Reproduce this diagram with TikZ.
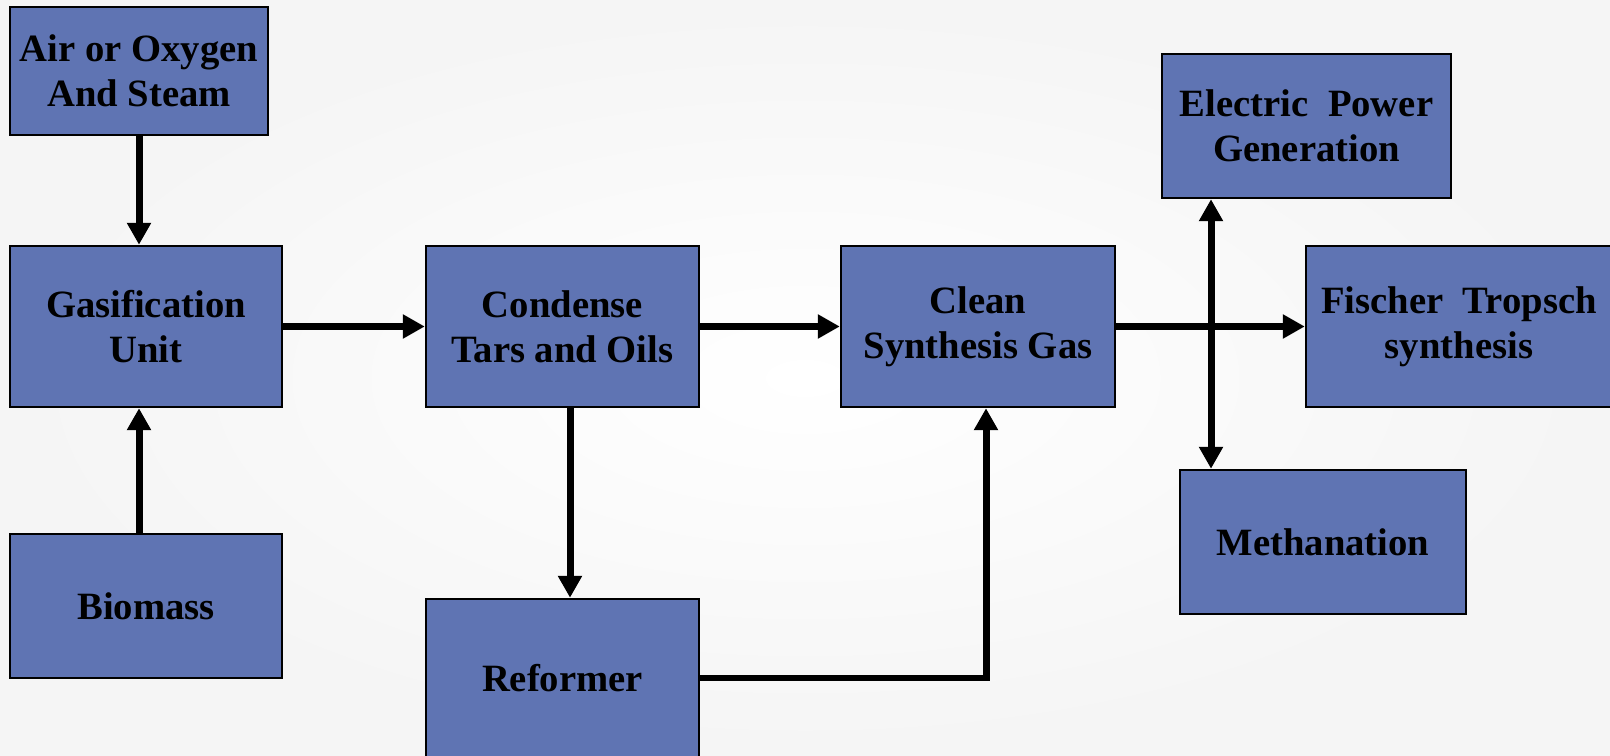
\documentclass[tikz,border=0pt]{standalone}
\usepackage{fontspec}
\setmainfont{Liberation Serif}
\usepackage{tikz}
\usetikzlibrary{arrows.meta,calc,positioning}
\usepackage{xcolor}
\definecolor{boxblue}{RGB}{95,116,179}

\begin{document}
\begin{tikzpicture}[x=0.02cm,y=-0.02cm,
	  every node/.style={align=center,text=black,font=\fontsize{22}{25.5}\selectfont\bfseries},
	  block/.style={draw=black,line width=0.05cm,fill=boxblue,inner sep=0pt},
	  flow/.style={-{Triangle[length=0.44cm,width=0.46cm]},line width=0.14cm},
	  twoway/.style={{Triangle[length=0.44cm,width=0.46cm]}-{Triangle[length=0.44cm,width=0.46cm]},line width=0.14cm}]

	  % page (units are pixels, counted from the top left)
	  \shade[inner color=white,outer color=black!4] (0,0) rectangle (1610,756);
	  \useasboundingbox (0,0) rectangle (1610,756);

	  % feed and gasifier
	  \node[block,minimum width=5.16cm,minimum height=2.56cm] (air) at (139,71) {Air or Oxygen\\And Steam};
	  \node[block,minimum width=5.44cm,minimum height=3.22cm] (gasifier) at (146,326.5) {Gasification\\Unit};
	  \node[block,minimum width=5.44cm,minimum height=2.88cm] (biomass) at (146,606) {Biomass};

	  % gas treatment
	  \node[block,minimum width=5.46cm,minimum height=3.22cm] (condense) at (562.5,326.5) {Condense\\Tars and Oils};
	  \node[block,minimum width=5.46cm,minimum height=3.16cm] (reformer) at (562.5,678) {Reformer};
	  \node[block,minimum width=5.48cm,minimum height=3.22cm] (clean) at (978,326.5) {Clean\\Synthesis Gas};

	  % uses of the gas
	  \node[block,minimum width=5.78cm,minimum height=2.88cm] (power) at (1306.5,126) {Electric\ \ Power\\Generation};
	  \node[block,minimum width=6.12cm,minimum height=3.22cm] (fischer) at (1459,326.5) {Fischer\ \ Tropsch\\synthesis};
	  \node[block,minimum width=5.72cm,minimum height=2.88cm] (methanation) at (1323,542) {Methanation};
	  \coordinate (split) at (1211,326.5);

	  \draw[flow] ([xshift=-0.14cm]gasifier.north |- air.south) -- ([xshift=-0.14cm]gasifier.north);
	  \draw[flow] ([xshift=-0.14cm]biomass.north) -- ([xshift=-0.14cm]gasifier.south);
	  \draw[flow] (gasifier) -- (condense);
	  \draw[flow] (condense) -- (clean);
	  \draw[flow] ([xshift=0.15cm]condense.south) -- ([xshift=0.15cm]reformer.north);
	  \draw[flow] (reformer.east) -| ([xshift=0.16cm]clean.south);
	  \draw[flow] (clean) -- (fischer);
	  \draw[twoway] (split |- power.south) -- (split |- methanation.north);
\end{tikzpicture}
\end{document}
